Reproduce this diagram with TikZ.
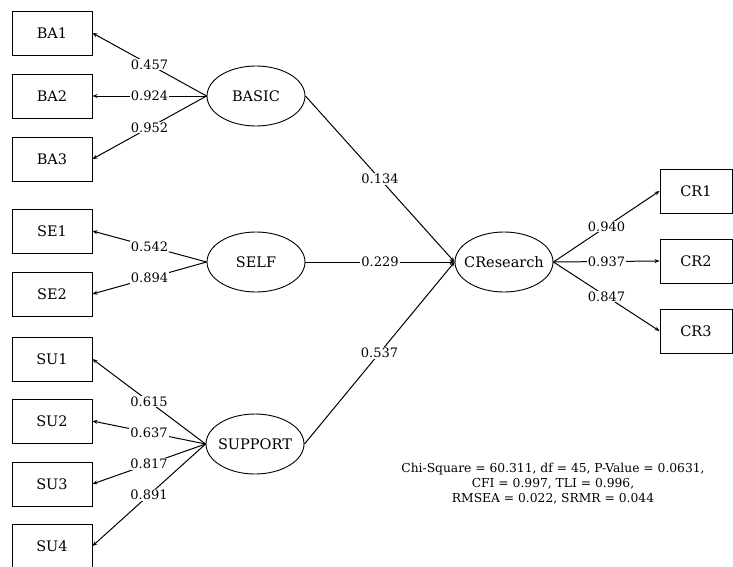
\documentclass[tikz,border=0pt]{standalone}
\usepackage{fontspec}
\setmainfont{DejaVu Serif}
\usetikzlibrary{arrows.meta, positioning, shapes.geometric}

\tikzset{
  obsbox/.style={draw, line width=0.9pt, minimum width=80pt, minimum height=44pt, inner sep=0pt, font=\fontsize{14.5}{16}\selectfont},
  latent/.style={draw, line width=0.9pt, ellipse, minimum width=98pt, minimum height=60pt, inner xsep=-9pt, inner ysep=0pt, font=\fontsize{14.5}{16}\selectfont},
  load/.style={fill=white, inner sep=1pt, font=\fontsize{13}{14}\selectfont},
  path/.style={line width=1pt, -{Stealth[length=5pt, width=4pt]}}
}

\begin{document}
\begin{tikzpicture}[x=1pt, y=-1pt]
      \useasboundingbox (0,0) rectangle (733,566);
      % latent factors
      \node[latent] (bas) at (256,96) {BASIC};
      \node[latent] (slf) at (256,262) {SELF};
      \node[latent] (sup) at (255,444) {SUPPORT};
      \node[latent] (cres) at (504,262) {CResearch};
      % indicators
      \foreach \n/\y in {BA1/33, BA2/96, BA3/159, SE1/231, SE2/294, SU1/359, SU2/421, SU3/484, SU4/546}
        \node[obsbox] (\n) at (52,\y) {\n};
      \foreach \n/\y in {CR1/191, CR2/261, CR3/331}
        \node[obsbox, minimum width=72pt] (\n) at (696,\y) {\n};
      % loadings
      \foreach \n/\v in {BA1/0.457, BA2/0.924, BA3/0.952}
        \draw[path] (bas.west) -- node[load] {\v} (\n.east);
      \foreach \n/\v in {SE1/0.542, SE2/0.894}
        \draw[path] (slf.west) -- node[load] {\v} (\n.east);
      \foreach \n/\v in {SU1/0.615, SU2/0.637, SU3/0.817, SU4/0.891}
        \draw[path] (sup.west) -- node[load] {\v} (\n.east);
      \foreach \n/\v in {CR1/0.940, CR2/0.937, CR3/0.847}
        \draw[path] (cres.east) -- node[load] {\v} (\n.west);
      % structural paths
      \draw[path] (bas.east) -- node[load] {0.134} (cres.west);
      \draw[path] (slf.east) -- node[load] {0.229} (cres.west);
      \draw[path] (sup.east) -- node[load] {0.537} (cres.west);
      % fit indices
      \node[align=center, font=\fontsize{12.3}{15}\selectfont] (fit) at (553,484)
        {Chi-Square = 60.311, df = 45, P-Value = 0.0631,\\ CFI = 0.997, TLI = 0.996,\\ RMSEA = 0.022, SRMR = 0.044};
    \end{tikzpicture}
\end{document}
